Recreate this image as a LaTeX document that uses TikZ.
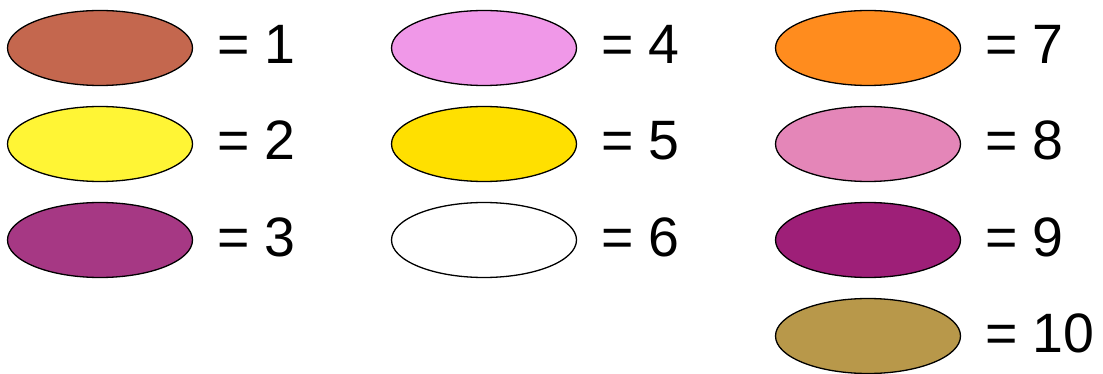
\documentclass[tikz,border=0pt]{standalone}
\usepackage{fontspec}
\setmainfont{Liberation Sans}
\definecolor{c1}{HTML}{C4674E}
\definecolor{c2}{HTML}{FFF535}
\definecolor{c3}{HTML}{A63884}
\definecolor{c4}{HTML}{F098E8}
\definecolor{c5}{HTML}{FFE000}
\definecolor{c6}{HTML}{FFFFFF}
\definecolor{c7}{HTML}{FF8C1E}
\definecolor{c8}{HTML}{E486B8}
\definecolor{c9}{HTML}{9E1F78}
\definecolor{c10}{HTML}{B8984A}
\begin{document}
\begin{tikzpicture}[x=1pt,y=-1pt,
  swatch/.style={draw=black,line width=1.3pt},
  lbl/.style={anchor=base west,inner sep=0pt,font=\fontsize{55.5}{60}\selectfont}]
\useasboundingbox (0,0) rectangle (1103,374);
\foreach \n/\cx/\cy in {1/100/48,2/100/144,3/100/240,4/484/48,5/484/144,6/484/240,7/868/48,8/868/144,9/868/240,10/868/336}{
  \filldraw[swatch,fill=c\n] (\cx,\cy) ellipse [x radius=92.5, y radius=37.5];
  \node[lbl] (t\n) at (\cx+117,\cy+16) {= \n};
}
\end{tikzpicture}
\end{document}
